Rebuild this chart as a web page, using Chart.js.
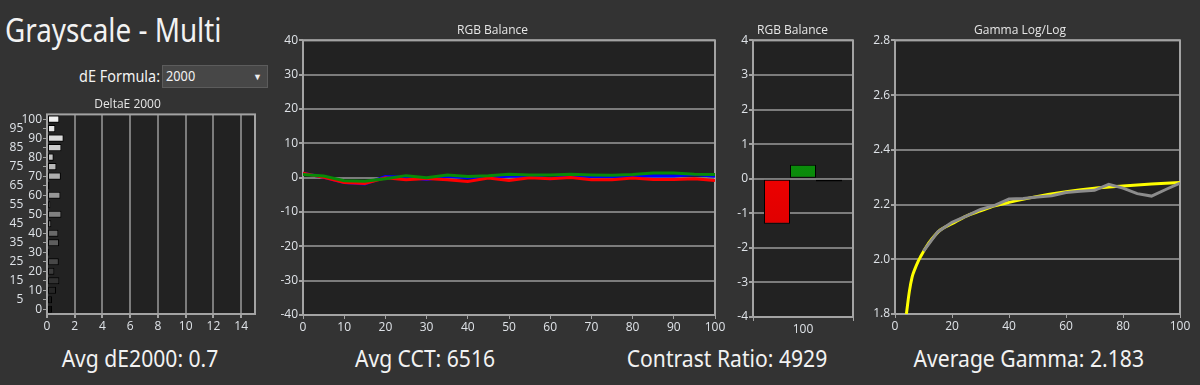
<!DOCTYPE html>
<html>
<head>
<meta charset="utf-8">
<script src="https://cdn.jsdelivr.net/npm/chart.js@4.4.1/dist/chart.umd.min.js"></script>
<style>
  html, body { margin: 0; padding: 0; }
  body { width: 1200px; height: 385px; background: #333333; position: relative; overflow: hidden;
         font-family: "Noto Sans", sans-serif; color: #f2f2f2; }
  canvas { position: absolute; }
  .txt { position: absolute; white-space: nowrap; line-height: normal; }
  #title { left: 5px; top: 8px; font-size: 32px; transform: scaleX(0.87); transform-origin: left center; }
  #formula { left: 79px; top: 64px; font-size: 17px; transform: scaleX(0.85); transform-origin: left center; }
  #select { position: absolute; left: 162px; top: 65px; width: 104px; height: 21px; background: #474747;
            border: 1px solid #5c5c5c; }
  #select span { position: absolute; left: 3px; top: -1px; font-size: 15px; transform: scaleX(0.85); transform-origin: left center; }
  #select i { position: absolute; right: 5px; top: 4px; font-style: normal; font-size: 9px; color: #eee; }
  .stat { top: 341px; font-size: 24px; text-align: center; width: 260px; transform: scaleX(0.88); }
</style>
</head>
<body>
<div id="title" class="txt">Grayscale - Multi</div>
<div id="formula" class="txt">dE Formula:</div>
<div id="select"><span class="txt">2000</span><i>&#9660;</i></div>

<canvas id="deChart" width="270" height="246" style="left:0px;top:94px"></canvas>
<canvas id="rgbChart" width="460" height="320" style="left:270px;top:20px"></canvas>
<canvas id="rgbBarChart" width="128" height="320" style="left:732px;top:20px"></canvas>
<canvas id="gammaChart" width="340" height="320" style="left:860px;top:20px"></canvas>

<div class="txt stat" style="left:10px">Avg dE2000: 0.7</div>
<div class="txt stat" style="left:295px">Avg CCT: 6516</div>
<div class="txt stat" style="left:597px">Contrast Ratio: 4929</div>
<div class="txt stat" style="left:898px">Average Gamma: 2.183</div>

<script>
// niveaux de gris mesurés
const stimulus = [0, 5, 10, 15, 20, 25, 30, 35, 40, 45, 50, 55, 60, 65, 70, 75, 80, 85, 90, 95, 100];
const deltaE = [0.36, 0.36, 0.65, 0.89, 0.53, 0.85, 0.17, 0.87, 0.82, 0.31, 1.04,
                0.24, 0.97, 0.17, 1.0, 0.68, 0.48, 1.04, 1.2, 0.6, 0.89];

// RGB balance par niveau
const redBal   = [1.3, 0.1, -1.4, -1.7, 0.0, -0.6, -0.2, -0.6, -1.1, -0.1, -0.8,
                  0.0, -0.3, 0.05, -0.6, -0.6, -0.1, -0.5, -0.5, -0.3, -0.8];
const greenBal = [0.9, 0.5, -0.9, -1.0, -0.3, 0.6, 0.0, 0.8, 0.35, 0.6, 1.0,
                  0.8, 0.8, 1.0, 0.8, 0.7, 0.9, 1.4, 1.4, 1.0, 0.9];
const blueBal  = [1.3, 0.15, -1.4, -1.8, 0.35, 0.15, -0.5, 0.35, 0.0, 0.15, 0.4,
                  0.5, -0.3, 0.5, 0.35, 0.25, 0.25, 0.6, 0.5, 0.9, 0.45];

// RGB balance à 100%
const balanceLabels = ['100'];
const red100 = [-1.3];
const green100 = [0.4];
const blue100 = [-0.08];

// gamma mesuré et cible
const gammaX = [10, 15, 20, 25, 30, 35, 40, 45, 50, 55, 60, 65, 70, 75, 80, 85, 90, 95, 100];
const gammaMeasured = [2.03, 2.10, 2.135, 2.158, 2.182, 2.197, 2.22, 2.222, 2.228, 2.232,
                       2.244, 2.249, 2.252, 2.274, 2.26, 2.24, 2.231, 2.255, 2.278];
const gammaTargetX = [4, 5, 6, 7, 8, 9, 11, 13, 16, 20, 25, 30, 35, 40, 50, 60, 70, 80, 90, 100];
const gammaTargetY = [1.80, 1.88, 1.935, 1.965, 1.99, 2.01, 2.046, 2.075, 2.108, 2.13, 2.158, 2.177,
                      2.195, 2.208, 2.23, 2.247, 2.26, 2.268, 2.275, 2.281];

Chart.defaults.responsive = false;
Chart.defaults.maintainAspectRatio = false;
Chart.defaults.animation = false;
Chart.defaults.color = '#dfe3e8';
Chart.defaults.font.family = '"Open Sans", "Noto Sans", sans-serif';
Chart.defaults.font.size = 12;
Chart.defaults.plugins.legend.display = false;
Chart.defaults.plugins.tooltip.enabled = false;

const GRID = '#7c7c7c';
const FRAME = '#a3a3a3';

// fond et cadre de la zone de tracé
const plotFrame = {
    id: 'plotFrame',
    beforeDraw(chart) {
        const { ctx, chartArea: a } = chart;
        ctx.save();
        ctx.fillStyle = '#222222';
        ctx.fillRect(a.left, a.top, a.width, a.height);
        ctx.restore();
    },
    beforeDatasetsDraw(chart) {
        const { ctx, chartArea: a } = chart;
        ctx.save();
        ctx.strokeStyle = FRAME;
        ctx.lineWidth = 2;
        ctx.strokeRect(a.left, a.top, a.width, a.height);
        ctx.restore();
    }
};

function titleOpts(text) {
    return { display: true, text: text, color: '#e6e6e6',
             font: { size: 12, weight: 'normal' }, padding: { top: 3, bottom: 3 } };
}

function pts(xs, ys) {
    return xs.map((x, i) => ({ x: x, y: ys[i] }));
}

// DeltaE 2000
new Chart(document.getElementById('deChart'), {
    type: 'bar',
    data: {
        labels: stimulus,
        datasets: [{
            data: deltaE,
            backgroundColor: ctx => {
                const v = Math.round(15 + stimulus[ctx.dataIndex] * 2.25);
                return `rgb(${v},${v},${v})`;
            },
            borderColor: '#000',
            borderWidth: 1,
            borderSkipped: false,
            barPercentage: 0.75,
            categoryPercentage: 1
        }]
    },
    options: {
        indexAxis: 'y',
        layout: { padding: { right: 15 } },
        plugins: { title: titleOpts('DeltaE 2000') },
        scales: {
            x: {
                min: 0, max: 15,
                ticks: { stepSize: 2, includeBounds: false, padding: 1 },
                grid: { color: GRID, lineWidth: 2, tickLength: 4, tickColor: FRAME },
                border: { display: false },
                afterFit: s => { s.height = 26; }
            },
            y: {
                reverse: true,
                ticks: {
                    autoSkip: false, padding: 1,
                    callback: function(v) {
                        const l = this.getLabelForValue(v);
                        return (l % 10 === 0) ? String(l) : l + '      ';
                    }
                },
                grid: { drawOnChartArea: false, offset: false, tickLength: 4, color: FRAME },
                border: { display: false },
                afterFit: s => { s.width = 47; }
            }
        }
    },
    plugins: [plotFrame]
});

// RGB Balance (courbes)
new Chart(document.getElementById('rgbChart'), {
    type: 'line',
    data: {
        datasets: [
            { data: pts(stimulus, greenBal), borderColor: '#078a07' },
            { data: pts(stimulus, redBal), borderColor: '#ff0000' },
            { data: pts(stimulus, blueBal), borderColor: '#0000ff' }
        ]
    },
    options: {
        layout: { padding: { right: 15 } },
        elements: { point: { radius: 0 }, line: { borderWidth: 3, tension: 0 } },
        plugins: { title: titleOpts('RGB Balance') },
        scales: {
            x: {
                type: 'linear', min: 0, max: 100,
                ticks: { stepSize: 10, padding: 1 },
                grid: { drawOnChartArea: false, tickLength: 4, color: FRAME },
                border: { display: false },
                afterFit: s => { s.height = 25; }
            },
            y: {
                min: -40, max: 40,
                ticks: { stepSize: 10, padding: 1 },
                grid: { color: GRID, lineWidth: 2, tickLength: 4, tickColor: FRAME },
                border: { display: false },
                afterFit: s => { s.width = 33; }
            }
        }
    },
    plugins: [plotFrame]
});

// RGB Balance à 100%
function barGradient(stops) {
    return ctx => {
        const a = ctx.chart.chartArea;
        if (!a) return stops[0];
        const el = ctx.element;
        let y0 = a.top, y1 = a.bottom;
        if (el && el.y !== undefined && el.base !== undefined) {
            y0 = Math.min(el.y, el.base);
            y1 = Math.max(el.y, el.base);
        }
        const g = ctx.chart.ctx.createLinearGradient(0, y0, 0, Math.max(y1, y0 + 1));
        stops.forEach((c, i) => g.addColorStop(i / (stops.length - 1), c));
        return g;
    };
}

new Chart(document.getElementById('rgbBarChart'), {
    type: 'bar',
    data: {
        labels: balanceLabels,
        datasets: [
            { data: red100, backgroundColor: barGradient(['#ff2222', '#f80000', '#e00000', '#9a0000']) },
            { data: green100, backgroundColor: barGradient(['#12a012', '#0a8a0a', '#056405']) },
            { data: blue100, backgroundColor: barGradient(['#2424b8', '#12128a']) }
        ]
    },
    options: {
        layout: { padding: { right: 7 } },
        datasets: { bar: { borderColor: '#000', borderWidth: 1, borderSkipped: false,
                           barPercentage: 1, categoryPercentage: 0.78 } },
        plugins: { title: titleOpts('RGB Balance') },
        scales: {
            x: {
                ticks: { padding: 1 },
                grid: { drawOnChartArea: false, tickLength: 4, color: FRAME },
                border: { display: false },
                afterFit: s => { s.height = 23; }
            },
            y: {
                min: -4, max: 4,
                ticks: { stepSize: 1, padding: 1 },
                grid: { color: GRID, lineWidth: 2, tickLength: 4, tickColor: FRAME },
                border: { display: false },
                afterFit: s => { s.width = 21; }
            }
        }
    },
    plugins: [plotFrame]
});

// Gamma Log/Log
new Chart(document.getElementById('gammaChart'), {
    type: 'line',
    data: {
        datasets: [
            { data: pts(gammaX, gammaMeasured), borderColor: '#8c8c8c', borderWidth: 3 },
            { data: pts(gammaTargetX, gammaTargetY), borderColor: '#ffff00', borderWidth: 3,
              cubicInterpolationMode: 'monotone' }
        ]
    },
    options: {
        layout: { padding: { right: 20 } },
        elements: { point: { radius: 0 } },
        plugins: { title: titleOpts('Gamma Log/Log') },
        scales: {
            x: {
                type: 'linear', min: 0, max: 100,
                ticks: { stepSize: 20, padding: 1 },
                grid: { drawOnChartArea: false, tickLength: 4, color: FRAME },
                border: { display: false },
                afterFit: s => { s.height = 26; }
            },
            y: {
                min: 1.8, max: 2.8,
                ticks: { stepSize: 0.2, padding: 1 },
                grid: { color: GRID, lineWidth: 2, tickLength: 4, tickColor: FRAME },
                border: { display: false },
                afterFit: s => { s.width = 35; }
            }
        }
    },
    plugins: [plotFrame]
});
</script>
</body>
</html>
